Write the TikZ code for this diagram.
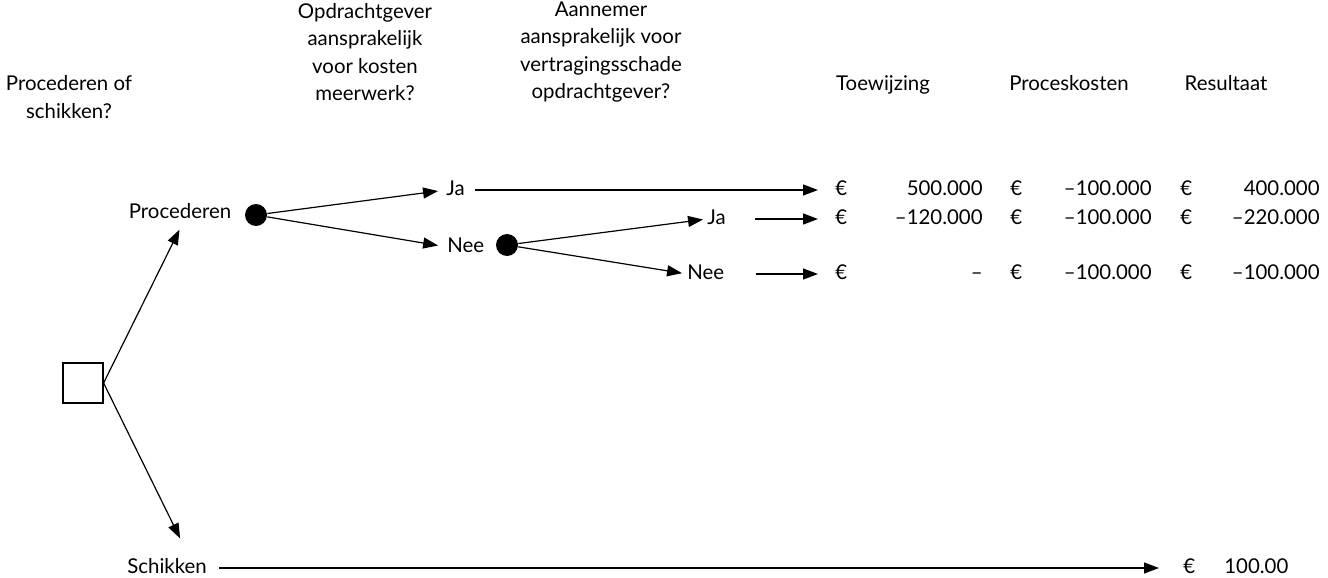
\documentclass[tikz,border=0pt]{standalone}
\usepackage{fontspec}
\setmainfont{Lato}
\usepackage{tikz}
\usetikzlibrary{arrows.meta}

\begin{document}
\begin{tikzpicture}[x=0.5pt, y=-0.5pt,
	every node/.style={font=\fontsize{10.2}{11.75}\selectfont},
	tekst/.style={inner sep=0pt, text height=7.3pt, text depth=1.8pt},
	kop/.style={inner sep=0pt, align=center},
	beslis/.style={shape=rectangle, draw=black, minimum size=20pt, inner sep=0pt, line width=0.6pt},
	kans/.style={shape=circle, fill=black, minimum size=11pt, inner sep=0pt},
	pijl/.style={-{Triangle[length=7.5pt,width=5.5pt]}, line width=0.6pt}]
	
	\useasboundingbox (0,0) rectangle (1328,578);
	
	\node[kop] (k1) at (69,97)    {Procederen of\\[2pt]schikken?};
	\node[kop] (k2) at (365,52)   {Opdrachtgever\\[2pt]aansprakelijk\\[2pt]voor kosten\\[2pt]meerwerk?};
	\node[kop] (k3) at (601,52)   {Aannemer\\[2pt]aansprakelijk voor\\[2pt]vertragingsschade\\[2pt]opdrachtgever?};
	\node[tekst] (k4) at (883,85)  {Toewijzing};
	\node[tekst] (k5) at (1069,85) {Proceskosten};
	\node[tekst] (k6) at (1226,85) {Resultaat};
	
	\node[beslis] (keuze) at (83,383) {};
	\node[tekst] (proc) at (180,213) {Procederen};
	\node[kans] (kans1) at (256,215) {};
	\node[tekst] (schik) at (167,568) {Schikken};
	
	\node[tekst, anchor=west] (ja1) at (446,190)  {Ja};
	\node[tekst, anchor=west] (nee1) at (447,247) {Nee};
	\node[kans] (kans2) at (507,245) {};
	\node[tekst, anchor=west] (ja2) at (707,219)  {Ja};
	\node[tekst, anchor=west] (nee2) at (687,274) {Nee};
	
	\node[tekst, anchor=west] (e11) at (835,190)  {€};
	\node[tekst, anchor=east] (w11) at (983,190)  {500.000};
	\node[tekst, anchor=west] (e12) at (1010,190) {€};
	\node[tekst, anchor=east] (w12) at (1152,190) {–100.000};
	\node[tekst, anchor=west] (e13) at (1180,190) {€};
	\node[tekst, anchor=east] (w13) at (1320,190) {400.000};
	
	\node[tekst, anchor=west] (e21) at (835,219)  {€};
	\node[tekst, anchor=east] (w21) at (983,219)  {–120.000};
	\node[tekst, anchor=west] (e22) at (1010,219) {€};
	\node[tekst, anchor=east] (w22) at (1152,219) {–100.000};
	\node[tekst, anchor=west] (e23) at (1180,219) {€};
	\node[tekst, anchor=east] (w23) at (1320,219) {–220.000};
	
	\node[tekst, anchor=west] (e31) at (835,274)  {€};
	\node[tekst, anchor=east] (w31) at (983,274)  {–};
	\node[tekst, anchor=west] (e32) at (1010,274) {€};
	\node[tekst, anchor=east] (w32) at (1152,274) {–100.000};
	\node[tekst, anchor=west] (e33) at (1180,274) {€};
	\node[tekst, anchor=east] (w33) at (1320,274) {–100.000};
	
	\node[tekst, anchor=west] (e41) at (1183,568) {€};
	\node[tekst, anchor=west] (w41) at (1224,568) {100.00};
	
	\path[pijl, shorten >=4pt] (keuze.east) edge ([xshift=1.5pt]proc.south);
	\path[pijl, shorten >=11.2pt] (keuze.east) edge ([xshift=11.5pt]schik.north);
	\path[pijl, shorten >=4pt] (kans1) edge (ja1.west);
	\path[pijl, shorten >=4.5pt] (kans1) edge (nee1.west);
	\path[pijl, shorten >=2pt] (kans2) edge (ja2.west);
	\path[pijl, shorten >=2.5pt] (kans2) edge (nee2.west);
	
	\path[pijl, shorten <=5pt, shorten >=8.5pt] (ja1.east) edge (e11.west);
	\path[pijl, shorten <=14.5pt, shorten >=8.5pt] (ja2.east) edge (e21.west);
	\path[pijl, shorten <=15.5pt, shorten >=8.5pt] (nee2.east) edge (e31.west);
	\path[pijl, shorten <=6pt, shorten >=12pt] (schik.east) edge (e41.west);
	
\end{tikzpicture}
\end{document}
